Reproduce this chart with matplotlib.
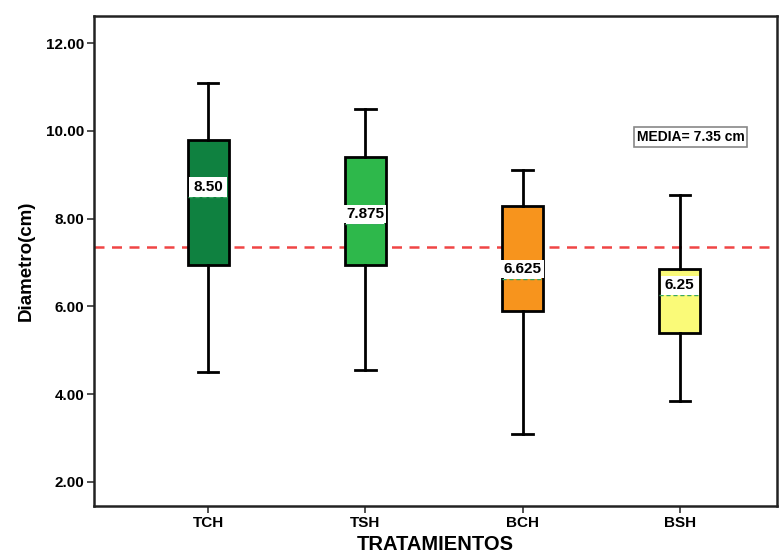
import matplotlib.pyplot as plt
from matplotlib.patches import Rectangle

plt.rcParams['font.family'] = ['Liberation Sans', 'DejaVu Sans']

# treatment groups and box statistics (cm)
groups = ['TCH', 'TSH', 'BCH', 'BSH']
whis_low = [4.50, 4.55, 3.10, 3.85]
q1 = [6.95, 6.95, 5.90, 5.40]
medians = [8.50, 7.875, 6.625, 6.25]
median_labels = ['8.50', '7.875', '6.625', '6.25']
q3 = [9.80, 9.40, 8.30, 6.85]
whis_high = [11.10, 10.50, 9.10, 8.55]
colors = ['#0f8140', '#2eb84b', '#f7941d', '#fafa78']
overall_mean = 7.35

fig = plt.figure(figsize=(7.79, 5.56), dpi=100)
ax = fig.add_axes([0.1207, 0.0899, 0.877, 0.8813])

stats = []
for g, lo, a, m, b, hi in zip(groups, whis_low, q1, medians, q3, whis_high):
    stats.append({'label': g, 'whislo': lo, 'q1': a, 'med': m, 'q3': b, 'whishi': hi, 'fliers': []})

pos = list(range(1, len(groups) + 1))
bw = 0.26
bp = ax.bxp(stats, positions=pos, widths=bw, patch_artist=True, showfliers=False,
            boxprops=dict(linewidth=2, edgecolor='black'),
            whiskerprops=dict(linewidth=2, color='black'),
            capprops=dict(linewidth=2, color='black'),
            medianprops=dict(linewidth=1, color='#3aa860', linestyle=(0, (3, 2))),
            capwidths=0.13)
for patch, c in zip(bp['boxes'], colors):
    patch.set_facecolor(c)

# overall mean line
ax.axhline(overall_mean, color='#f04545', linestyle=(0, (4, 3)), linewidth=1.8, zorder=1)

# median value labels on a white strip across the box
for x, m, txt in zip(pos, medians, median_labels):
    ax.add_patch(Rectangle((x - 0.12, m), 0.24, 0.44, facecolor='white',
                           edgecolor='none', zorder=3.5))
    ax.text(x, m + 0.23, txt, ha='center', va='center', fontsize=11, fontweight='bold',
            bbox=dict(facecolor='white', edgecolor='none', pad=1.5), zorder=5)

ax.text(4.07, 9.86, 'MEDIA= 7.35 cm', ha='center', va='center', fontsize=10, fontweight='bold',
        bbox=dict(facecolor='white', edgecolor='#888888', linewidth=1.2, pad=2))

ax.set_xlim(0.274, 4.62)
ax.set_ylim(1.45, 12.62)
ax.set_yticks([2, 4, 6, 8, 10, 12])
ax.set_yticklabels(['%.2f' % v for v in [2, 4, 6, 8, 10, 12]])
ax.set_xticks(pos)
ax.set_xticklabels(groups)
for lbl in ax.get_xticklabels() + ax.get_yticklabels():
    lbl.set_fontweight('bold')
    lbl.set_fontsize(11)
ax.tick_params(axis='both', direction='out', length=5, width=1.2, color='#333333', pad=2)

for sp in ax.spines.values():
    sp.set_linewidth(1.8)
    sp.set_color('#222222')

ax.set_ylabel('Diametro(cm)', fontsize=13.5, fontweight='bold', labelpad=8)
ax.set_xlabel('TRATAMIENTOS', fontsize=14.5, fontweight='bold', labelpad=4)

fig.savefig('out.png', dpi=100)
